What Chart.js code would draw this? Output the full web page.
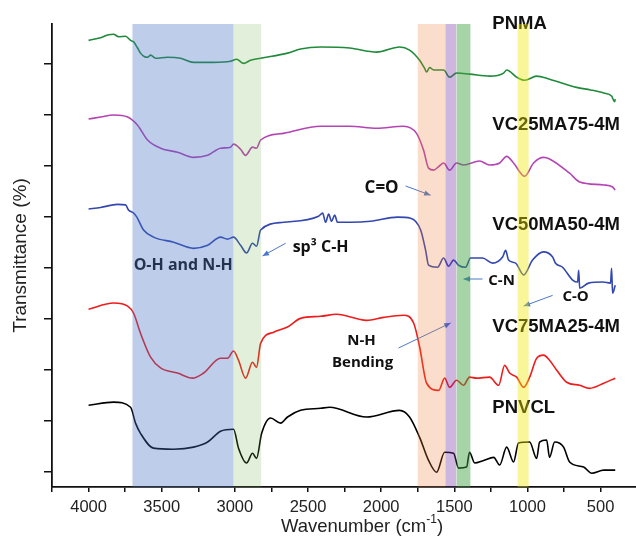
<!DOCTYPE html>
<html>
<head>
<meta charset="utf-8">
<script src="https://cdn.jsdelivr.net/npm/chart.js@4.4.1/dist/chart.umd.min.js"></script>
<style>
  body { margin: 0; background: #fff; }
</style>
</head>
<body>
<canvas id="ftir" width="636" height="543"></canvas>
<script>
// wavenumbers (cm-1) and offset transmittance
const pnmaWn  = [4000, 3918, 3863, 3829, 3795, 3747, 3713, 3692, 3665, 3645, 3617, 3597, 3576, 3542, 3460, 3371, 3282, 3145, 3029, 2988, 2940, 2893, 2824, 2640, 2551, 2414, 2216, 2031, 1874, 1806, 1737, 1703, 1689, 1669, 1641, 1573, 1532, 1484, 1396, 1259, 1163, 1142, 1074, 1019, 937, 849, 664, 568, 479, 425, 404, 400];
const pnmaT   = [84.5, 85.0, 85.6, 85.7, 85.2, 85.3, 84.5, 84.2, 83.0, 82.0, 81.3, 81.2, 81.6, 81.0, 81.2, 81.0, 80.2, 80.2, 80.4, 80.8, 80.0, 80.6, 81.0, 82.0, 82.8, 83.2, 83.0, 82.2, 83.2, 82.6, 80.6, 79.0, 78.3, 79.2, 78.7, 78.7, 77.3, 78.1, 77.9, 77.5, 78.1, 78.7, 77.3, 76.7, 77.5, 76.9, 75.3, 74.8, 74.2, 73.6, 72.5, 73.0];

const vc25Wn  = [4000, 3918, 3829, 3733, 3665, 3597, 3508, 3392, 3282, 3186, 3098, 3029, 3009, 2961, 2927, 2879, 2852, 2824, 2667, 2414, 2216, 2031, 1847, 1758, 1710, 1676, 1641, 1607, 1573, 1532, 1484, 1437, 1327, 1259, 1190, 1142, 1095, 1019, 958, 890, 849, 712, 643, 479, 418, 400];
const vc25T   = [69.1, 69.5, 69.9, 69.5, 67.9, 65.0, 63.4, 62.6, 61.6, 62.0, 63.4, 63.6, 64.2, 63.2, 62.0, 63.6, 63.4, 65.0, 66.3, 67.7, 67.7, 67.3, 67.7, 66.3, 63.0, 59.5, 59.1, 59.8, 60.5, 59.1, 60.5, 60.1, 60.9, 60.1, 60.5, 61.8, 60.5, 57.9, 60.5, 61.6, 61.3, 58.5, 56.8, 56.2, 55.8, 55.2];

const vc50Wn  = [4000, 3918, 3802, 3747, 3727, 3692, 3672, 3624, 3556, 3419, 3282, 3186, 3098, 3050, 3009, 2961, 2920, 2879, 2852, 2824, 2667, 2428, 2400, 2380, 2359, 2339, 2318, 2298, 2209, 2072, 1888, 1799, 1730, 1696, 1676, 1614, 1573, 1539, 1505, 1471, 1423, 1389, 1307, 1238, 1170, 1149, 1129, 1081, 1026, 965, 890, 828, 808, 760, 691, 657, 650, 643, 582, 486, 432, 425, 418, 400];
const vc50T   = [51.5, 51.8, 52.4, 52.3, 51.3, 50.7, 50.0, 47.4, 46.0, 45.0, 43.8, 44.4, 46.0, 45.6, 46.0, 44.4, 42.9, 44.8, 44.2, 47.4, 48.9, 50.1, 50.7, 48.9, 50.5, 49.1, 50.3, 48.9, 48.9, 49.1, 49.9, 49.7, 47.4, 43.4, 40.5, 40.1, 41.9, 40.3, 41.5, 40.5, 40.1, 41.9, 41.9, 40.9, 42.1, 43.4, 41.5, 40.9, 38.6, 41.5, 43.1, 42.1, 40.9, 40.1, 37.6, 37.2, 39.5, 36.0, 37.0, 37.2, 37.0, 39.9, 35.0, 36.6];

const vc75Wn  = [4000, 3829, 3733, 3692, 3645, 3576, 3508, 3392, 3289, 3214, 3098, 3050, 3009, 2975, 2927, 2879, 2852, 2824, 2735, 2640, 2551, 2414, 2305, 2100, 1983, 1847, 1778, 1737, 1689, 1607, 1566, 1532, 1484, 1437, 1396, 1348, 1259, 1197, 1156, 1122, 1074, 1026, 985, 937, 890, 849, 801, 732, 643, 575, 479, 400];
const vc75T   = [31.9, 33.1, 32.5, 31.1, 27.2, 22.5, 20.4, 19.4, 18.4, 19.4, 22.3, 22.3, 23.7, 21.9, 18.4, 21.5, 20.5, 25.2, 27.4, 28.4, 30.1, 30.5, 30.9, 29.7, 30.3, 30.7, 29.2, 24.5, 17.4, 16.0, 18.4, 16.6, 18.0, 17.0, 18.6, 18.4, 18.6, 17.0, 20.9, 19.4, 18.6, 16.6, 18.6, 22.3, 22.9, 21.9, 20.0, 17.6, 17.0, 16.4, 17.4, 18.4];

const pnvclWn = [4000, 3829, 3713, 3679, 3645, 3556, 3419, 3282, 3186, 3098, 3009, 2975, 2920, 2879, 2852, 2817, 2756, 2687, 2640, 2551, 2414, 2353, 2100, 1874, 1806, 1737, 1676, 1621, 1566, 1505, 1471, 1416, 1396, 1361, 1300, 1231, 1190, 1142, 1095, 1061, 985, 937, 917, 869, 849, 814, 753, 712, 616, 561, 479, 400];
const pnvclT  = [13.1, 13.7, 12.7, 9.6, 7.6, 4.7, 4.5, 4.9, 5.9, 8.0, 8.4, 4.7, 1.8, 3.7, 2.7, 7.6, 10.6, 9.6, 10.8, 12.1, 12.5, 12.7, 10.8, 12.1, 10.8, 6.8, 2.3, 0.0, 3.9, 3.7, 0.8, 1.0, 3.9, 1.8, 2.3, 2.9, 1.4, 4.9, 2.0, 5.7, 5.9, 2.7, 5.9, 6.3, 2.9, 5.9, 4.9, 2.0, 1.0, -0.2, 0.4, 0.4];

const seriesNames = ['PNMA', 'VC25MA75-4M', 'VC50MA50-4M', 'VC75MA25-4M', 'PNVCL'];
const xTicks = [500, 750, 1000, 1250, 1500, 1750, 2000, 2250, 2500, 2750, 3000, 3250, 3500, 3750, 4000, 4250];
const yTicks = [0, 10, 20, 30, 40, 50, 60, 70, 80];

// shaded regions (from, to in cm-1)
const bands = [
  { from: 3700, to: 3010, color: 'rgba(68,114,196,0.35)' },
  { from: 3010, to: 2820, color: 'rgba(112,173,71,0.2)' },
  { from: 1750, to: 1560, color: 'rgba(237,125,49,0.25)' },
  { from: 1560, to: 1487, color: 'rgba(112,48,160,0.35)' },
  { from: 1484, to: 1390, color: 'rgba(60,160,60,0.45)' },
  { from: 1067, to: 992,  color: 'rgba(240,230,0,0.4)' }
];

const pts = (wn, t) => wn.map((w, i) => ({ x: w, y: t[i] }));

const lineSet = (name, wn, t, color) => ({
  label: name,
  data: pts(wn, t),
  borderColor: color,
  borderWidth: 1.6,
  pointRadius: 0,
  cubicInterpolationMode: 'monotone',
  fill: false
});

const nameFont = 'bold 18.5px "Liberation Sans", Arial, sans-serif';
const noteFont = size => 'bold ' + size + 'px "Open Sans", "Noto Sans", sans-serif';

const annotate = {
  id: 'annotate',
  afterDatasetsDraw(chart) {
    const { ctx, chartArea: a, scales: { x, y } } = chart;
    const px = w => x.getPixelForValue(w);
    const py = v => y.getPixelForValue(v);
    ctx.save();

    // series names
    ctx.fillStyle = '#111';
    ctx.font = nameFont;
    ctx.textAlign = 'left';
    ctx.textBaseline = 'middle';
    const nameY = [87.7, 67.9, 48.3, 28.4, 12.5];
    seriesNames.forEach((n, i) => ctx.fillText(n, px(1240), py(nameY[i])));

    // peak notes
    const note = (txt, w, v, size, align) => {
      ctx.font = noteFont(size);
      ctx.textAlign = align;
      ctx.fillText(txt, px(w), py(v));
    };
    note('O-H and N-H', 3692, 40.5, 16, 'left');
    note('sp\u00B3 C-H', 2605, 44.0, 16, 'left');
    note('C=O', 1997, 55.6, 17, 'center');
    note('C-N', 1177, 37.4, 15, 'center');
    note('C-O', 671, 34.4, 15, 'center');
    note('N-H', 2134, 25.8, 15, 'center');
    note('Bending', 2127, 21.5, 15, 'center');

    // arrows
    const arrow = (w1, v1, w2, v2) => {
      const x1 = px(w1), y1 = py(v1), x2 = px(w2), y2 = py(v2);
      const ang = Math.atan2(y2 - y1, x2 - x1);
      ctx.strokeStyle = '#4a78c8';
      ctx.fillStyle = '#4a78c8';
      ctx.lineWidth = 1;
      ctx.beginPath();
      ctx.moveTo(x1, y1);
      ctx.lineTo(x2, y2);
      ctx.stroke();
      ctx.beginPath();
      ctx.moveTo(x2, y2);
      ctx.lineTo(x2 - 7 * Math.cos(ang - 0.4), y2 - 7 * Math.sin(ang - 0.4));
      ctx.lineTo(x2 - 7 * Math.cos(ang + 0.4), y2 - 7 * Math.sin(ang + 0.4));
      ctx.closePath();
      ctx.fill();
    };
    arrow(2653, 44.8, 2811, 42.3);
    arrow(1833, 56.0, 1662, 54.2);
    arrow(1307, 37.8, 1437, 37.8);
    arrow(828, 34.6, 1026, 32.5);
    arrow(1881, 24.3, 1525, 29.2);

    // bands go on top, they tint the curves and text
    bands.forEach(b => {
      const x1 = px(b.from), x2 = px(b.to);
      ctx.fillStyle = b.color;
      ctx.fillRect(Math.min(x1, x2), a.top, Math.abs(x2 - x1), a.bottom - a.top);
    });
    ctx.restore();
  },
  afterDraw(chart) {
    const { ctx, chartArea: a } = chart;
    ctx.save();
    ctx.fillStyle = '#222';
    ctx.textBaseline = 'middle';

    // y title
    ctx.save();
    ctx.translate(21, (a.top + a.bottom) / 2);
    ctx.rotate(-Math.PI / 2);
    ctx.font = '19px "Liberation Sans", Arial, sans-serif';
    ctx.textAlign = 'center';
    ctx.fillText('Transmittance (%)', 0, 0);
    ctx.restore();

    // x title with superscript
    const main = 'Wavenumber (cm', sup = '-1', tail = ')';
    const big = '18.5px "Liberation Sans", Arial, sans-serif';
    const small = '12px "Liberation Sans", Arial, sans-serif';
    ctx.font = big;
    const w1 = ctx.measureText(main).width, w3 = ctx.measureText(tail).width;
    ctx.font = small;
    const w2 = ctx.measureText(sup).width;
    let sx = 362 - (w1 + w2 + w3) / 2;
    const sy = 527;
    ctx.textAlign = 'left';
    ctx.font = big;
    ctx.fillText(main, sx, sy);
    sx += w1;
    ctx.font = small;
    ctx.fillText(sup, sx, sy - 7);
    sx += w2;
    ctx.font = big;
    ctx.fillText(tail, sx, sy);
    ctx.restore();
  }
};

new Chart(document.getElementById('ftir'), {
  type: 'line',
  data: {
    datasets: [
      lineSet(seriesNames[0], pnmaWn, pnmaT, '#1f8a3a'),
      lineSet(seriesNames[1], vc25Wn, vc25T, '#b444b4'),
      lineSet(seriesNames[2], vc50Wn, vc50T, '#3347b0'),
      lineSet(seriesNames[3], vc75Wn, vc75T, '#ee1c1c'),
      lineSet(seriesNames[4], pnvclWn, pnvclT, '#000000')
    ]
  },
  options: {
    responsive: false,
    animation: false,
    layout: { padding: { left: 44, top: 24, right: 0, bottom: 0 } },
    plugins: {
      legend: { display: false },
      tooltip: { enabled: false }
    },
    scales: {
      x: {
        type: 'linear',
        reverse: true,
        min: 258,
        max: 4250,
        afterBuildTicks: s => { s.ticks = xTicks.map(v => ({ value: v })); },
        afterFit: s => { s.height = 56; },
        ticks: {
          autoSkip: false,
          maxRotation: 0,
          padding: 6,
          color: '#222',
          font: { family: '"Liberation Sans", Arial, sans-serif', size: 16.5 },
          callback: v => (v % 500 === 0 ? String(v) : '')
        },
        grid: { drawOnChartArea: false, tickLength: 5, color: '#111', lineWidth: 1.5 },
        border: { color: '#111', width: 1.8 }
      },
      y: {
        min: -2.9,
        max: 87.7,
        afterBuildTicks: s => { s.ticks = yTicks.map(v => ({ value: v })); },
        afterFit: s => { s.width = 8; },
        ticks: { display: false },
        grid: { drawOnChartArea: false, tickLength: 8, color: '#111', lineWidth: 1.5 },
        border: { color: '#111', width: 1.8 }
      }
    }
  },
  plugins: [annotate]
});
</script>
</body>
</html>
